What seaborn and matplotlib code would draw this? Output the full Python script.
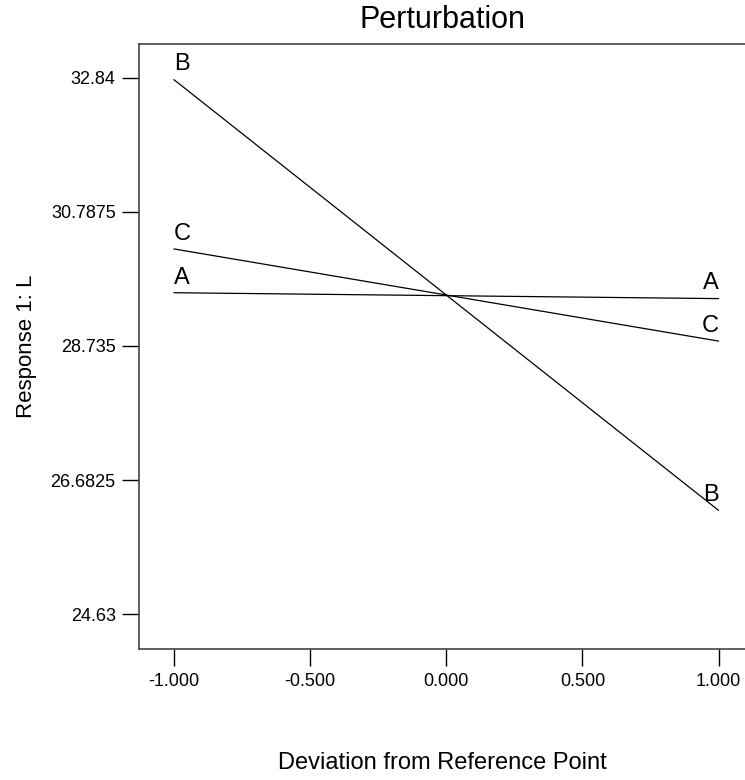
import matplotlib
matplotlib.use("Agg")
import matplotlib.pyplot as plt
import seaborn as sns
import pandas as pd

# factor levels at the two ends of the perturbation
factors = ["A", "B", "C"]
deviation = [-1.0, 1.0]
resp_low = [29.55, 32.81, 30.22]   # at -1.000
resp_high = [29.46, 26.22, 28.81]  # at +1.000

y_ticks = [24.63, 26.6825, 28.735, 30.7875, 32.84]
x_ticks = [-1.0, -0.5, 0.0, 0.5, 1.0]

rows = []
for f, lo, hi in zip(factors, resp_low, resp_high):
    rows.append({"factor": f, "dev": deviation[0], "resp": lo})
    rows.append({"factor": f, "dev": deviation[1], "resp": hi})
df = pd.DataFrame(rows)

sns.set_style("white")
plt.rcParams["font.family"] = ["Liberation Sans", "DejaVu Sans"]
plt.rcParams["text.color"] = "black"
plt.rcParams["axes.labelcolor"] = "black"
plt.rcParams["xtick.color"] = "black"
plt.rcParams["ytick.color"] = "black"

fig = plt.figure(figsize=(7.45, 7.8), dpi=100)
ax = fig.add_axes([0.187, 0.168, 0.813, 0.776])

sns.lineplot(data=df, x="dev", y="resp", hue="factor", units="factor",
             estimator=None, palette=["black"] * 3, linewidth=0.9,
             legend=False, ax=ax)

# factor letters at the line ends
for f, lo, hi in zip(factors, resp_low, resp_high):
    ax.annotate(f, (deviation[0], lo), xytext=(0, 3), textcoords="offset points",
                ha="left", va="bottom", fontsize=17)
    ax.annotate(f, (deviation[1], hi), xytext=(0, 3), textcoords="offset points",
                ha="right", va="bottom", fontsize=17)

ax.set_xlim(-1.127, 1.097)
ax.set_ylim(24.10, 33.36)
ax.set_xticks(x_ticks)
ax.set_xticklabels([f"{v:.3f}" for v in x_ticks])
ax.set_yticks(y_ticks)
ax.set_yticklabels(["24.63", "26.6825", "28.735", "30.7875", "32.84"])
ax.tick_params(axis="both", direction="out", length=12, width=1, color="black",
               labelsize=13, pad=5, left=True, bottom=True)

for side in ["left", "bottom", "top"]:
    ax.spines[side].set_color("#444444")
    ax.spines[side].set_linewidth(1.2)
ax.spines["right"].set_visible(False)

ax.set_title("Perturbation", fontsize=22, pad=11)
ax.set_xlabel("Deviation from Reference Point", fontsize=17, labelpad=45)
ax.set_ylabel("Response 1: L", fontsize=16, labelpad=10)

fig.savefig("out.png", dpi=100)
